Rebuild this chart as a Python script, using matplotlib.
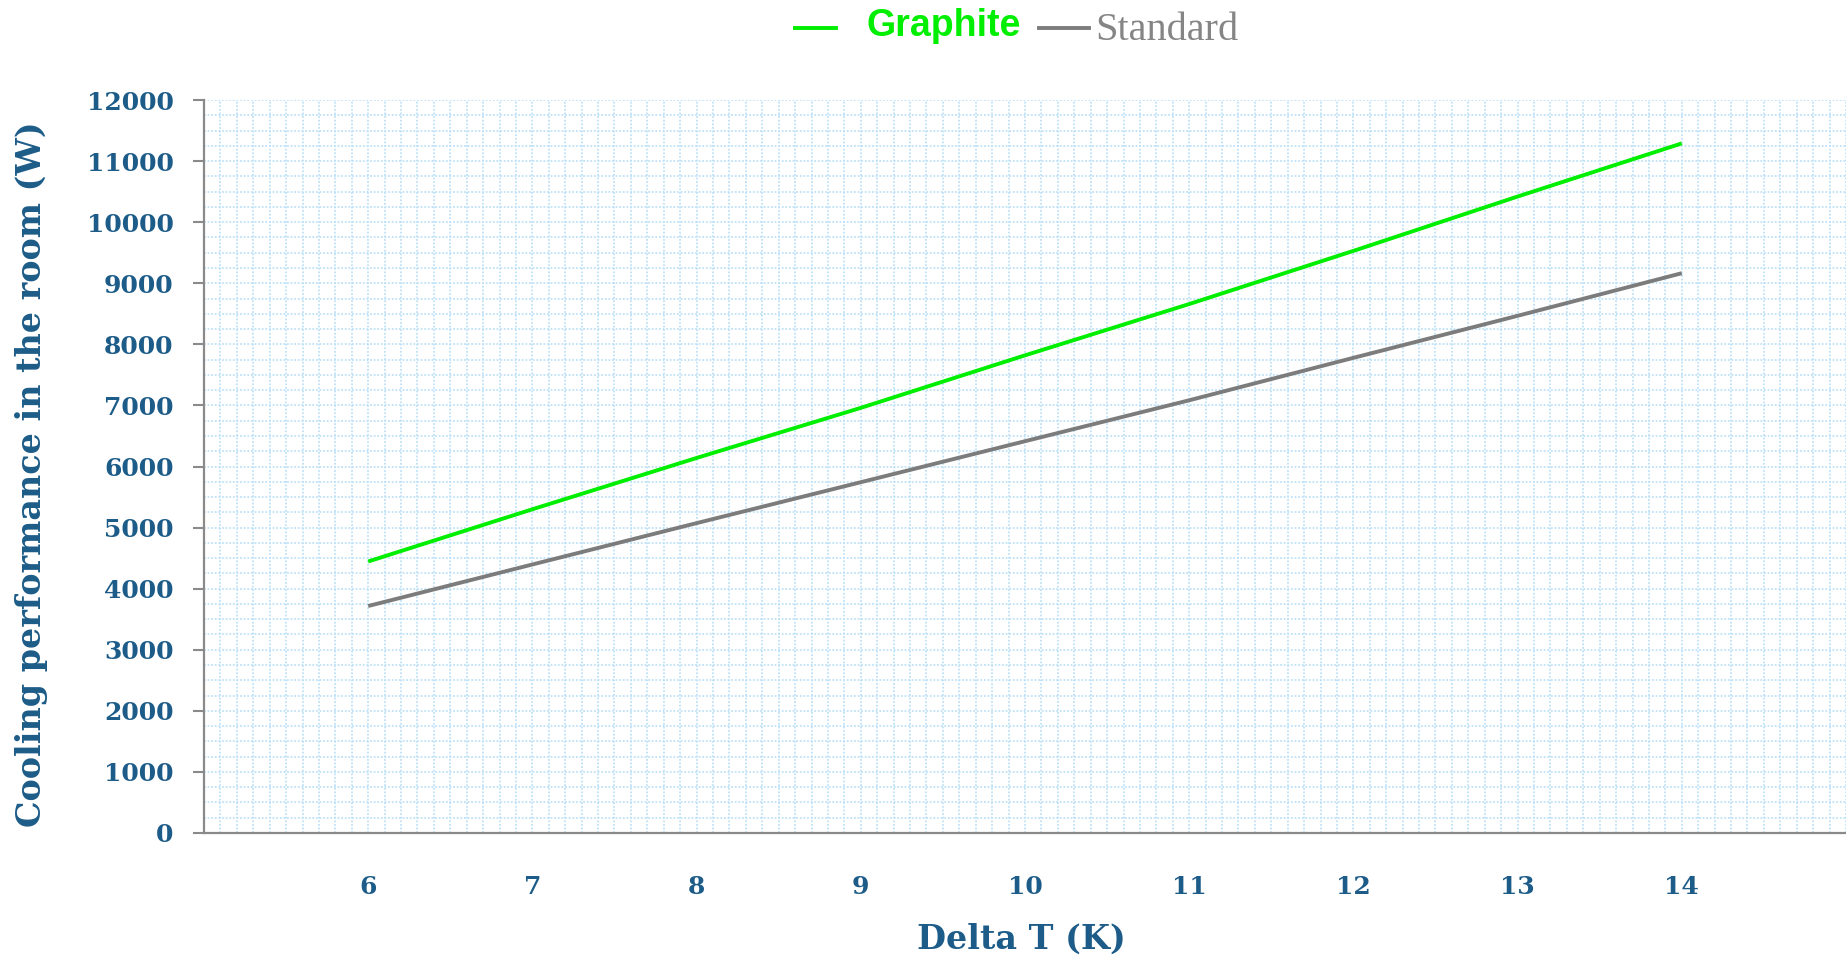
from matplotlib import pyplot as plt
from matplotlib.lines import Line2D
from matplotlib.ticker import MultipleLocator

# data
delta_t = [6, 7, 8, 9, 10, 11, 12, 13, 14]
graphite = [4445, 5300, 6140, 6960, 7820, 8660, 9530, 10420, 11290]
standard = [3716, 4396, 5073, 5743, 6414, 7084, 7779, 8467, 9165]
series_names = ['Graphite', 'Standard']
y_ticks = [0, 1000, 2000, 3000, 4000, 5000, 6000, 7000, 8000, 9000, 10000, 11000, 12000]

label_blue = '#1d5c88'
axis_gray = '#8a8a8a'
green = '#00ee00'
gray = '#7c7c7c'

fig = plt.figure(figsize=(18.46, 9.59), dpi=100)
ax = fig.add_axes([0.1105, 0.1314, 0.8895, 0.7643])

ax.plot(delta_t, graphite, color=green, lw=2.8, solid_capstyle='butt')
ax.plot(delta_t, standard, color=gray, lw=2.8, solid_capstyle='butt')

ax.set_xlim(5, 15)
ax.set_ylim(0, 12000)
ax.set_xticks(delta_t)
ax.set_yticks(y_ticks)
ax.xaxis.set_minor_locator(MultipleLocator(0.1))
ax.yaxis.set_minor_locator(MultipleLocator(250))
ax.grid(True, which='both', color='#bfe2f8', linestyle=(0, (1, 1)), lw=1.3)
ax.set_axisbelow(True)

for s in ['top', 'right']:
  ax.spines[s].set_visible(False)
for s in ['left', 'bottom']:
  ax.spines[s].set_color(axis_gray)
  ax.spines[s].set_linewidth(1.6)

ax.tick_params(axis='y', which='major', length=8, width=1.5, color=axis_gray, pad=14,
               labelsize=18, labelcolor=label_blue)
ax.tick_params(axis='x', which='major', length=0, pad=30, labelsize=18, labelcolor=label_blue)
ax.tick_params(which='minor', length=0)
for t in ax.get_xticklabels() + ax.get_yticklabels():
  t.set_fontfamily('DejaVu Serif')
  t.set_fontweight('bold')

ax.set_xlabel('Delta T (K)', fontsize=24, fontweight='bold', family='DejaVu Serif',
              color=label_blue)
ax.set_ylabel('Cooling performance in the room (W)', fontsize=24, fontweight='bold',
              family='DejaVu Serif', color=label_blue)
ax.xaxis.set_label_coords(0.498, -0.122)
ax.yaxis.set_label_coords(-0.095, 0.49)

# legend at the top, drawn by hand: line then name for each series
W, H = 1846.0, 959.0
legend_y = 1 - 28 / H
fig.add_artist(Line2D([795 / W, 836 / W], [legend_y, legend_y], color=green, lw=2.8,
                      transform=fig.transFigure))
fig.text(866 / W, legend_y + 2 / H, series_names[0], color=green, fontsize=27,
         fontweight='bold', family='Liberation Sans', va='center', ha='left')
fig.add_artist(Line2D([1039 / W, 1089 / W], [legend_y, legend_y], color=gray, lw=2.8,
                      transform=fig.transFigure))
fig.text(1095 / W, legend_y - 3 / H, series_names[1], color='#858585', fontsize=29,
         family='Liberation Serif', va='center', ha='left')

plt.savefig('out.png', dpi=100)
